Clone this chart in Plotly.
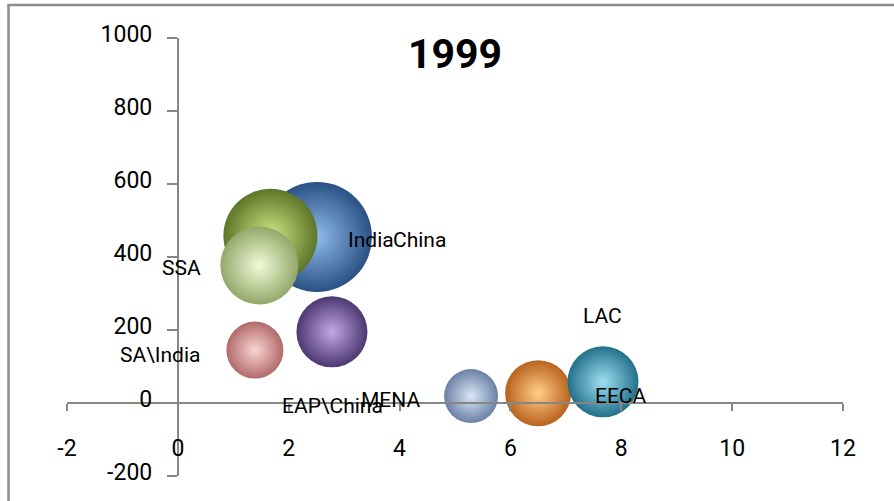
import plotly.graph_objects as go

# Regional data, 1999
regions = ["China", "India", "SSA", "SA\\India", "EAP\\China", "MENA", "EECA", "LAC"]
x_vals = [2.51, 1.67, 1.47, 1.39, 2.78, 5.29, 6.50, 7.67]
y_vals = [455, 458, 377, 145, 195, 19, 27, 58]
population = [1250, 913, 628, 336, 521, 301, 450, 521]

x_ticks = [-2, 0, 2, 4, 6, 8, 10, 12]
y_ticks = [-200, 0, 200, 400, 600, 800, 1000]

# Sphere shading: edge colour and highlight colour for each bubble
edge_colors = ["#2b5184", "#5d7628", "#93a86a", "#b06b6a", "#4d3870", "#6a81a5", "#b9621c", "#23708a"]
center_colors = ["#8fbbea", "#cfe784", "#f2fbd8", "#fbd4d2", "#c3a7e6", "#dbe7f7", "#ffcf8a", "#9fe0f2"]

# Label offsets (pixels) relative to each bubble
label_dx = [103, 101, -78, -95, 1, -81, 83, 0]
label_dy = [-3, -4, -3, -5, -74, -4, -3, 66]

FONT = "Roboto"
AXIS_GRAY = "#868686"

fig = go.Figure()
fig.add_trace(go.Scatter(
    x=x_vals,
    y=y_vals,
    mode="markers",
    text=regions,
    marker=dict(
        size=population,
        sizemode="area",
        sizeref=2.0 * max(population) / (110 ** 2),
        color=edge_colors,
        gradient=dict(type="radial", color=center_colors),
        line=dict(width=0),
        opacity=1,
    ),
    hoverinfo="text",
    showlegend=False,
))

annotations = []
for name, xv, yv, dx, dy in zip(regions, x_vals, y_vals, label_dx, label_dy):
    annotations.append(dict(
        x=xv, y=yv, xref="x", yref="y",
        text=name, showarrow=False,
        xshift=dx, yshift=dy,
        font=dict(family=FONT, size=21, color="#000000"),
    ))

fig.update_layout(
    width=894,
    height=501,
    margin=dict(l=67, r=51, t=38, b=25, pad=0, autoexpand=False),
    paper_bgcolor="white",
    plot_bgcolor="white",
    title=dict(
        text="<b>1999</b>",
        x=0.5, xref="paper", xanchor="center",
        y=1 - 54 / 501, yref="container", yanchor="middle",
        font=dict(family=FONT, size=41, color="#000000"),
    ),
    xaxis=dict(
        range=[-2, 12],
        tickvals=x_ticks,
        ticktext=[str(v) for v in x_ticks],
        showgrid=False,
        zeroline=False,
        showline=True,
        linecolor=AXIS_GRAY,
        linewidth=2,
        ticks="outside",
        ticklen=7,
        tickwidth=2,
        tickcolor=AXIS_GRAY,
        ticklabelstandoff=17,
        tickfont=dict(family=FONT, size=23, color="#000000"),
        anchor="free",
        position=200 / 1200,
        automargin=False,
        fixedrange=True,
    ),
    yaxis=dict(
        range=[-200, 1000],
        tickvals=y_ticks,
        ticktext=[str(v) for v in y_ticks],
        showgrid=False,
        zeroline=False,
        showline=True,
        linecolor=AXIS_GRAY,
        linewidth=2,
        ticks="outside",
        ticklen=10,
        tickwidth=2,
        tickcolor=AXIS_GRAY,
        ticklabelstandoff=10,
        ticklabelshift=-4,
        tickfont=dict(family=FONT, size=23, color="#000000"),
        anchor="free",
        position=2 / 14,
        automargin=False,
        fixedrange=True,
    ),
    annotations=annotations,
    shapes=[dict(
        type="rect", xref="paper", yref="paper",
        x0=(8.5 - 67) / 776, x1=(905 - 67) / 776,
        y0=(438 - (510 - 38)) / 438, y1=(438 - (5 - 38)) / 438,
        line=dict(color="#8c8c8c", width=2.5),
        fillcolor="rgba(0,0,0,0)",
        layer="below",
    )],
)

fig.write_html("out.html")
